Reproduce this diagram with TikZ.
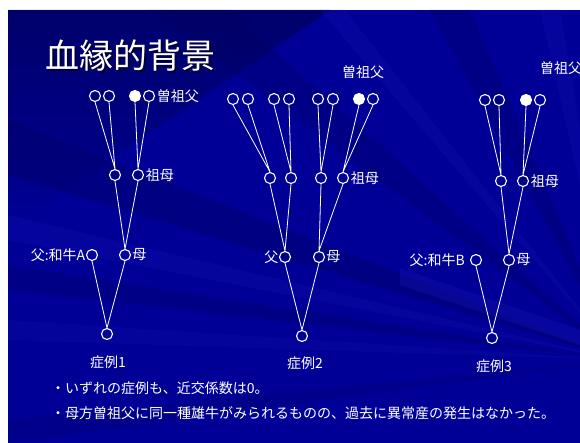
\documentclass[tikz,border=0pt]{standalone}
\usepackage{fontspec}
\newfontfamily\jp{Noto Sans CJK JP}
\definecolor{bgblue}{RGB}{0,0,150}
\definecolor{bgdark}{RGB}{0,0,90}
\definecolor{bgray}{RGB}{30,30,190}
\begin{document}
\begin{tikzpicture}[x=1pt,y=-1pt,
  pc/.style={circle,draw=white,line width=1.1pt,minimum size=11pt,inner sep=0pt},
  pf/.style={pc,fill=white},
  lbl/.style={text=white,font=\jp\fontsize{14}{14}\selectfont,inner sep=0pt},
  body/.style={text=white,font=\jp\fontsize{14}{14}\selectfont,inner sep=0pt,anchor=west},
  ln/.style={draw=white,line width=0.8pt}]
\useasboundingbox (0,0) rectangle (580,443);
% background
\fill[white] (0,0) rectangle (580,443);
\fill[bgblue] (8,10) rectangle (580,443);
\begin{scope}
\clip (8,10) rectangle (580,443);
\shade[left color=bgdark,right color=bgblue,shading angle=0,opacity=0.7] (8,10) -- (330,10) -- (8,230) -- cycle;
\fill[bgdark,opacity=0.3] (620,360) -- (8,120) -- (8,175) -- cycle;
\fill[bgdark,opacity=0.25] (620,360) -- (150,10) -- (230,10) -- cycle;
\fill[bgdark,opacity=0.25] (620,360) -- (8,265) -- (8,290) -- cycle;
\fill[bgdark,opacity=0.25] (620,360) -- (430,10) -- (470,10) -- cycle;
\fill[bgray,opacity=0.18] (620,360) -- (8,215) -- (8,240) -- cycle;
\fill[bgray,opacity=0.18] (620,360) -- (540,10) -- (560,10) -- cycle;
\fill[bgray,opacity=0.18] (620,360) -- (320,10) -- (345,10) -- cycle;
\fill[bgray,opacity=0.15] (620,360) -- (8,320) -- (8,340) -- cycle;
\fill[bgdark,opacity=0.2] (620,360) -- (8,420) -- (8,443) -- cycle;
\fill[bgray,opacity=0.25] (400,268) -- (580,330) -- (580,345) -- (400,285) -- cycle;
\end{scope}
% title
\node[text=black!80!blue,font=\jp\fontsize{34}{34}\selectfont,inner sep=0pt,anchor=west] (titleshadow) at (47,58) {血縁的背景};
\node[text=white,font=\jp\fontsize{34}{34}\selectfont,inner sep=0pt,anchor=west] (title) at (45,56) {血縁的背景};
% ---------- case 1
\node[pc] (a1) at (95,96) {};
\node[pc] (a2) at (109,96) {};
\node[pf] (a3) at (135,96) {};
\node[pc] (a4) at (149,96) {};
\node[lbl,anchor=west] (a4l) at ([xshift=1.5pt]a4.east) {曽祖父};
\node[pc] (b1) at (115,175) {};
\node[pc] (b2) at (138,175) {};
\node[lbl,anchor=west] (b2l) at ([xshift=1.5pt]b2.east) {祖母};
\node[pc] (f1) at (92,255) {};
\node[lbl,anchor=east] (f1l) at ([xshift=-0.5pt]f1.west) {父:和牛A};
\node[pc] (m1) at (125,255) {};
\node[lbl,anchor=west] (m1l) at ([xshift=1pt]m1.east) {母};
\node[pc] (c1) at (107,334) {};
\node[lbl] (c1l) at (108,362) {症例1};
\draw[ln] (a1.south) -- (b1.north) (a2.south) -- (b1.north)
  (a3.south) -- (b2.north) (a4.south) -- (b2.north)
  (b1.south) -- (m1.north) (b2.south) -- (m1.north)
  (f1.south) -- (c1.north) (m1.south) -- (c1.north);
% ---------- case 2
\node[lbl] (e2l) at (363,72) {曽祖父};
\node[pc] (e1) at (233,99) {};
\node[pc] (e2) at (248,99) {};
\node[pc] (e3) at (274,99) {};
\node[pc] (e4) at (289,99) {};
\node[pc] (e5) at (318,99) {};
\node[pc] (e6) at (333,99) {};
\node[pf] (e7) at (359,99) {};
\node[pc] (e8) at (373,99) {};
\node[pc] (g1) at (270,178) {};
\node[pc] (g2) at (291,178) {};
\node[pc] (g3) at (321,178) {};
\node[pc] (g4) at (343,178) {};
\node[lbl,anchor=west] (g4l) at ([xshift=1.5pt]g4.east) {祖母};
\node[pc] (f2) at (285,257) {};
\node[lbl,anchor=east] (f2l) at ([xshift=-0.5pt]f2.west) {父};
\node[pc] (m2) at (319,257) {};
\node[lbl,anchor=west] (m2l) at ([xshift=1pt]m2.east) {母};
\node[pc] (c2) at (302,336) {};
\node[lbl] (c2l) at (305,363) {症例2};
\draw[ln] (e1.south) -- (g1.north) (e2.south) -- (g1.north)
  (e3.south) -- (g2.north) (e4.south) -- (g2.north)
  (e5.south) -- (g3.north) (e6.south) -- (g3.north)
  (e7.south) -- (g4.north) (e8.south) -- (g4.north)
  (g1.south) -- (f2.north) (g2.south) -- (f2.north)
  (g3.south) -- (m2.north) (g4.south) -- (m2.north)
  (f2.south) -- (c2.north) (m2.south) -- (c2.north);
% ---------- case 3
\node[lbl,anchor=west] (h4l) at (540,68) {曽祖父};
\node[pc] (h1) at (485,100) {};
\node[pc] (h2) at (499,100) {};
\node[pf] (h3) at (526,100) {};
\node[pc] (h4) at (540,100) {};
\node[pc] (k1) at (501,181) {};
\node[pc] (k2) at (523,181) {};
\node[lbl,anchor=west] (k2l) at ([xshift=1.5pt]k2.east) {祖母};
\node[pc] (f3) at (476,260) {};
\node[lbl,anchor=east] (f3l) at ([xshift=-5pt]f3.west) {父:和牛B};
\node[pc] (m3) at (509,260) {};
\node[lbl,anchor=west] (m3l) at ([xshift=1pt]m3.east) {母};
\node[pc] (c3) at (492,338) {};
\node[lbl] (c3l) at (494,366) {症例3};
\draw[ln] (h1.south) -- (k1.north) (h2.south) -- (k1.north)
  (h3.south) -- (k2.north) (h4.south) -- (k2.north)
  (k1.south) -- (m3.north) (k2.south) -- (m3.north)
  (f3.south) -- (c3.north) (m3.south) -- (c3.north);
% ---------- notes
\node[body] (t1) at (51,388) {・いずれの症例も、近交係数は0。};
\node[body] (t2) at (51,413) {・母方曽祖父に同一種雄牛がみられるものの、過去に異常産の発生はなかった。};
\end{tikzpicture}
\end{document}
